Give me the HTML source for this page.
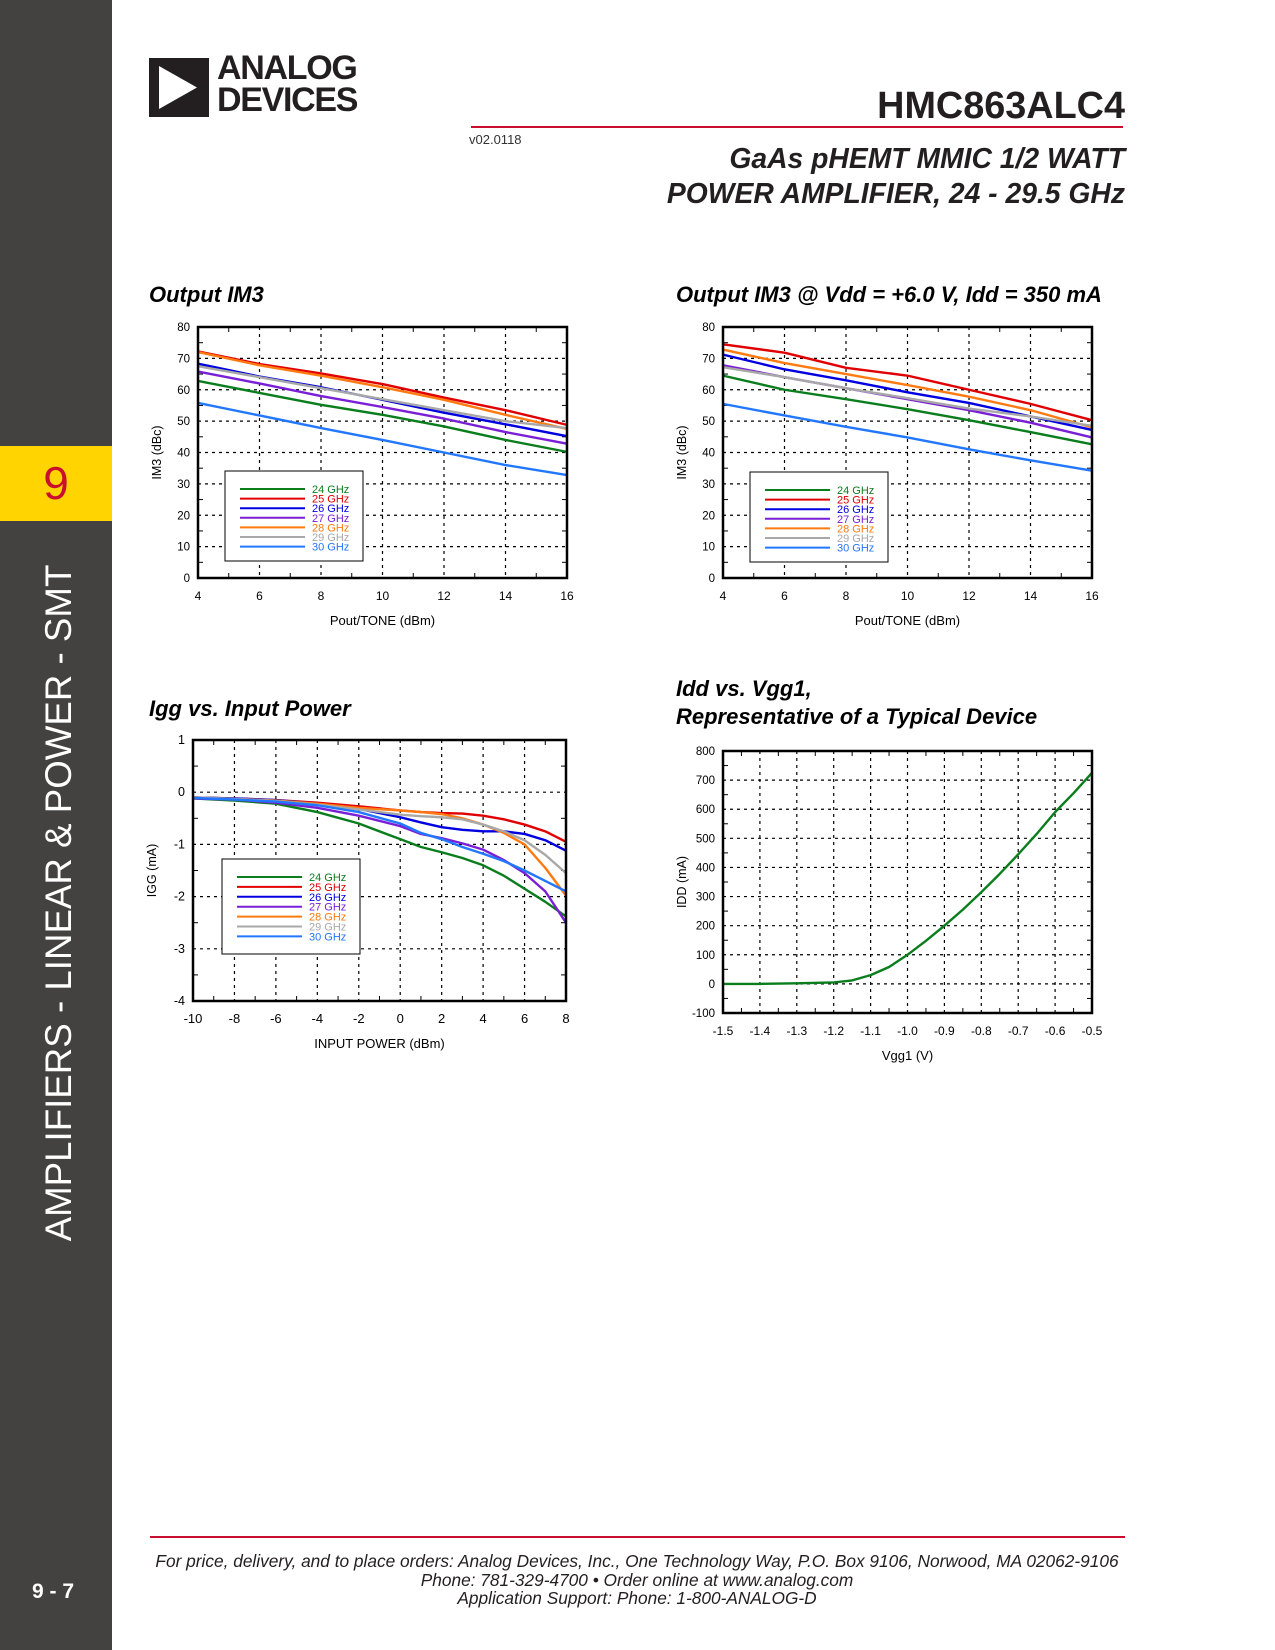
<!DOCTYPE html>
<html><head><meta charset="utf-8">
<style>
body{margin:0;width:1275px;height:1650px;position:relative;background:#fff;font-family:"Liberation Sans",sans-serif;overflow:hidden}
.abs{position:absolute}
.t{position:absolute;white-space:nowrap}
</style></head><body>
<div class="abs" style="left:0;top:0;width:112px;height:1650px;background:#434240"></div>
<div class="abs" style="left:0;top:446px;width:112px;height:75px;background:#ffd400;color:#c8102e;font-size:46px;text-align:center;line-height:75px">9</div>
<div class="t" style="left:59px;top:903px;transform:translate(-50%,-50%) rotate(-90deg);color:#fff;font-size:36.7px;">AMPLIFIERS - LINEAR &amp; POWER - SMT</div>
<div class="t" style="left:32px;top:1580px;color:#fff;font-size:21px;font-weight:bold">9 - 7</div>

<div class="abs" style="left:149px;top:58px;width:60px;height:59px;background:#231f20">
<svg width="60" height="59"><polygon points="10,8 48,29.5 10,51" fill="#fff"/></svg></div>
<div class="t" style="left:217px;top:52px;font-size:34px;font-weight:bold;line-height:32px;letter-spacing:-1.3px;color:#231f20">ANALOG<br>DEVICES</div>
<div class="t" style="right:150px;top:85px;font-size:37.8px;font-weight:bold;color:#231f20">HMC863ALC4</div>
<div class="abs" style="left:471px;top:126px;width:652px;height:2px;background:#c8102e"></div>
<div class="t" style="left:469px;top:132px;font-size:13px;color:#333">v02.0118</div>
<div class="t" style="right:150px;top:141px;font-size:28.3px;font-weight:bold;font-style:italic;text-align:right;line-height:35px;color:#231f20">GaAs pHEMT MMIC 1/2 WATT<br>POWER AMPLIFIER, 24 - 29.5 GHz</div>

<div class="t" style="left:149px;top:282px;font-size:22px;font-weight:bold;font-style:italic">Output IM3</div>
<div class="t" style="left:676px;top:282px;font-size:22px;font-weight:bold;font-style:italic">Output IM3 @ Vdd = +6.0 V, Idd = 350 mA</div>
<div class="t" style="left:149px;top:696px;font-size:22px;font-weight:bold;font-style:italic">Igg vs. Input Power</div>
<div class="t" style="left:676px;top:675px;font-size:22px;font-weight:bold;font-style:italic;line-height:28px">Idd vs. Vgg1,<br>Representative of a Typical Device</div>

<svg id="svg" class="abs" style="left:0;top:0" width="1275" height="1650"></svg>

<div class="abs" style="left:150px;top:1536px;width:975px;height:1.5px;background:#c8102e"></div>
<div class="t" style="left:637px;top:1552px;transform:translateX(-50%);font-size:17.3px;font-style:italic;text-align:center;line-height:18.5px;color:#231f20">For price, delivery, and to place orders: Analog Devices, Inc., One Technology Way, P.O. Box 9106, Norwood, MA 02062-9106<br>Phone: 781-329-4700 • Order online at www.analog.com<br>Application Support: Phone: 1-800-ANALOG-D</div>

<script>
const freqs=["24 GHz","25 GHz","26 GHz","27 GHz","28 GHz","29 GHz","30 GHz"];
const colors=["#0a7d1c","#e00000","#0000e0","#7a1fd6","#ff7a10","#a8a8a8","#2277ff"];
const imX=[4,6,8,10,12,14,16];
const im1_24=[62.8,59,55.2,52,48.3,44,40.2];
const im1_25=[72.2,68.2,65.2,61.8,57.5,53.5,48.8];
const im1_26=[68.3,64.2,60.8,56.8,52.7,49,45.2];
const im1_27=[65.8,62,58,54.5,50.8,46.5,42.8];
const im1_28=[72,67.8,64.5,60.8,56.8,52,47.5];
const im1_29=[67.5,64,60.5,57,53.5,50,47.8];
const im1_30=[55.8,51.8,47.8,44,40,36,32.8];
const im2_24=[64.5,60,57,53.8,50.3,46.5,42.6];
const im2_25=[74.5,71.8,67,64.5,60,55.5,50.3];
const im2_26=[71.2,66.5,63,59.2,55.8,51.5,47.2];
const im2_27=[67.8,64,60.5,57,53.5,49.5,44.8];
const im2_28=[72.8,68.5,65,61.5,57.8,53.5,48];
const im2_29=[67.2,64,60.5,57.3,54,51.5,48.5];
const im2_30=[55.5,51.8,48.2,44.8,41,37.5,34.2];
const iggX=[-10,-8,-6,-4,-2,0,1,2,3,4,5,6,7,8];
const igg24=[-0.12,-0.16,-0.22,-0.38,-0.6,-0.9,-1.05,-1.15,-1.26,-1.4,-1.6,-1.85,-2.1,-2.38];
const igg25=[-0.1,-0.12,-0.15,-0.2,-0.27,-0.35,-0.38,-0.4,-0.41,-0.45,-0.52,-0.62,-0.75,-0.95];
const igg26=[-0.1,-0.12,-0.15,-0.22,-0.32,-0.48,-0.58,-0.67,-0.72,-0.75,-0.75,-0.8,-0.92,-1.12];
const igg27=[-0.12,-0.14,-0.2,-0.3,-0.45,-0.65,-0.8,-0.88,-0.98,-1.1,-1.3,-1.55,-1.9,-2.5];
const igg28=[-0.1,-0.13,-0.16,-0.22,-0.3,-0.35,-0.38,-0.42,-0.5,-0.62,-0.78,-1.0,-1.45,-1.98];
const igg29=[-0.1,-0.13,-0.17,-0.24,-0.33,-0.43,-0.46,-0.48,-0.52,-0.62,-0.75,-0.92,-1.2,-1.55];
const igg30=[-0.11,-0.14,-0.18,-0.25,-0.38,-0.6,-0.78,-0.9,-1.05,-1.18,-1.32,-1.5,-1.7,-1.9];
const vggX=[-1.5,-1.4,-1.3,-1.2,-1.15,-1.1,-1.05,-1.0,-0.95,-0.9,-0.85,-0.8,-0.75,-0.7,-0.65,-0.6,-0.55,-0.5];
const idd=[0,0,2,5,12,30,58,100,148,200,255,315,378,445,515,590,655,725];
const imTicksX=["4","6","8","10","12","14","16"];
const imTicksY=["0","10","20","30","40","50","60","70","80"];
const iggTicksX=["-10","-8","-6","-4","-2","0","2","4","6","8"];
const iggTicksY=["-4","-3","-2","-1","0","1"];
const vggTicksX=["-1.5","-1.4","-1.3","-1.2","-1.1","-1.0","-0.9","-0.8","-0.7","-0.6","-0.5"];
const iddTicksY=["-100","0","100","200","300","400","500","600","700","800"];

const NS="http://www.w3.org/2000/svg";
const svg=document.getElementById('svg');
function mk(tag,attrs,parent){const e=document.createElementNS(NS,tag);for(const k in attrs)e.setAttribute(k,attrs[k]);(parent||svg).appendChild(e);return e;}

function chart(c){
  const g=mk('g',{});
  
  
  const sx=v=>c.L+(v-c.x0)/(c.x1-c.x0)*(c.R-c.L);
  const sy=v=>c.B-(v-c.y0)/(c.y1-c.y0)*(c.B-c.T);
  c.xt.forEach(s=>{const v=parseFloat(s),x=sx(v);
    if(x>c.L+1&&x<c.R-1) mk('line',{x1:x,x2:x,y1:c.T,y2:c.B,stroke:'#000','stroke-width':1.2,'stroke-dasharray':'3,4'},g);
    const t=mk('text',{x:x,y:c.B+22,'text-anchor':'middle','font-size':c.fs,'font-family':'Liberation Sans'},g);t.textContent=s;
    });
  c.yt.forEach(s=>{const v=parseFloat(s),y=sy(v);
    if(y>c.T+1&&y<c.B-1) mk('line',{x1:c.L,x2:c.R,y1:y,y2:y,stroke:'#000','stroke-width':1.2,'stroke-dasharray':'3,4'},g);
    const t=mk('text',{x:c.L-8,y:y+4,'text-anchor':'end','font-size':c.fs-0.5,'font-family':'Liberation Sans'},g);t.textContent=s;
    });
  for(let i=0;i<c.xt.length-1;i++){const x=sx((parseFloat(c.xt[i])+parseFloat(c.xt[i+1]))/2);
    mk('line',{x1:x,x2:x,y1:c.B,y2:c.B-5,stroke:'#000'},g);mk('line',{x1:x,x2:x,y1:c.T,y2:c.T+5,stroke:'#000'},g);}
  for(let i=0;i<c.yt.length-1;i++){const y=sy((parseFloat(c.yt[i])+parseFloat(c.yt[i+1]))/2);
    mk('line',{x1:c.L,x2:c.L+5,y1:y,y2:y,stroke:'#000'},g);mk('line',{x1:c.R,x2:c.R-5,y1:y,y2:y,stroke:'#000'},g);}
  c.series.forEach((s,i)=>{
    const p=mk('polyline',{points:s.ys.map((v,j)=>sx(c.xs[j])+','+sy(v)).join(' '),fill:'none',stroke:s.color,'stroke-width':2.4,'stroke-linejoin':'round'},g);
    
    
  });
  if(c.leg){const lg=mk('g',{},g);
    
    
    mk('rect',{x:c.leg.x,y:c.leg.y,width:138,height:c.leg.h,fill:'#fff',stroke:'#000','stroke-width':1},lg);
    c.series.forEach((s,i)=>{const y=c.leg.y+18+i*c.leg.dy;
      mk('line',{x1:c.leg.x+15,x2:c.leg.x+80,y1:y,y2:y,stroke:s.color,'stroke-width':2},lg);
      const t=mk('text',{x:c.leg.x+87,y:y+4,'font-size':11,fill:s.color,'font-family':'Liberation Sans'},lg);t.textContent=s.label;
      });}
  mk('rect',{x:c.L,y:c.T,width:c.R-c.L,height:c.B-c.T,fill:'none',stroke:'#000','stroke-width':2.5},g);
  const xt=mk('text',{x:(c.L+c.R)/2,y:c.B+47,'text-anchor':'middle','font-size':13,'font-family':'Liberation Sans'},g);xt.textContent=c.xl;
  
  const yx=c.L-37,ym=(c.T+c.B)/2;
  const yt=mk('text',{x:yx,y:ym,'text-anchor':'middle','font-size':12.5,'font-family':'Liberation Sans',transform:`rotate(-90 ${yx} ${ym})`},g);yt.textContent=c.yl;
  
}
const im1=[im1_24,im1_25,im1_26,im1_27,im1_28,im1_29,im1_30];
const im2=[im2_24,im2_25,im2_26,im2_27,im2_28,im2_29,im2_30];
const igg=[igg24,igg25,igg26,igg27,igg28,igg29,igg30];
chart({name:'output-im3-chart',L:198,R:567,T:327,B:578,x0:4,x1:16,y0:0,y1:80,xt:imTicksX,yt:imTicksY,fs:12,xs:imX,
  series:im1.map((d,i)=>({ys:d,color:colors[i],label:freqs[i]})),leg:{x:225,y:471,h:90,dy:9.6},xl:'Pout/TONE (dBm)',yl:'IM3 (dBc)'});
chart({name:'output-im3-6v-chart',L:723,R:1092,T:327,B:578,x0:4,x1:16,y0:0,y1:80,xt:imTicksX,yt:imTicksY,fs:12,xs:imX,
  series:im2.map((d,i)=>({ys:d,color:colors[i],label:freqs[i]})),leg:{x:750,y:472,h:90,dy:9.6},xl:'Pout/TONE (dBm)',yl:'IM3 (dBc)'});
chart({name:'igg-chart',L:193,R:566,T:740,B:1001,x0:-10,x1:8,y0:-4,y1:1,xt:iggTicksX,yt:iggTicksY,fs:13,xs:iggX,
  series:igg.map((d,i)=>({ys:d,color:colors[i],label:freqs[i]})),leg:{x:222,y:859,h:95,dy:9.9},xl:'INPUT POWER (dBm)',yl:'IGG (mA)'});
chart({name:'idd-chart',L:723,R:1092,T:751,B:1013,x0:-1.5,x1:-0.5,y0:-100,y1:800,xt:vggTicksX,yt:iddTicksY,fs:12,xs:vggX,
  series:[{ys:idd,color:'#0a7d1c',label:null}],leg:null,xl:'Vgg1 (V)',yl:'IDD (mA)'});
</script>
</body></html>
